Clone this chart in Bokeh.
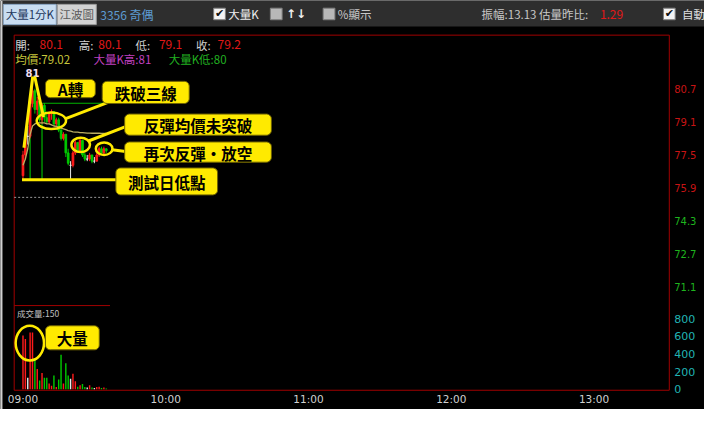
import math
from bokeh.plotting import figure
from bokeh.models import Range1d, ColumnDataSource
from bokeh.embed import file_html
from bokeh.resources import INLINE
from bokeh.core.properties import value

# ---------------- data ----------------
minutes = list(range(36))  # minutes after 09:00
opens  = [76.5, 77.5, 78.4, 78.4, 80.0, 80.6, 79.7, 80.1, 79.2, 79.9,
          79.3, 79.1, 79.5, 79.6, 79.0, 79.2, 78.7, 78.3, 78.5, 77.6,
          77.0, 77.0, 77.6, 78.1, 77.7, 78.2, 77.5, 77.3, 77.3, 77.5,
          77.2, 77.2, 77.5, 77.8, 77.6, 77.8]
highs  = [77.7, 78.6, 78.9, 80.2, 81.0, 80.7, 80.3, 80.1, 80.0, 80.0,
          79.6, 79.6, 79.7, 79.6, 79.3, 79.3, 78.8, 78.6, 78.5, 77.8,
          77.2, 77.7, 78.2, 78.1, 78.3, 78.2, 77.6, 77.5, 77.6, 77.5,
          77.4, 77.6, 77.9, 77.9, 77.9, 77.8]
lows   = [76.3, 77.3, 78.0, 78.3, 79.8, 79.5, 79.4, 79.1, 79.0, 79.1,
          79.0, 79.0, 79.2, 78.9, 78.9, 78.6, 78.2, 78.2, 77.4, 77.0,
          76.3, 76.9, 77.5, 77.6, 77.6, 77.4, 77.2, 77.2, 77.2, 77.1,
          77.1, 77.2, 77.4, 77.5, 77.5, 77.6]
closes = [77.5, 78.4, 78.4, 80.0, 80.6, 79.7, 80.1, 79.2, 79.9, 79.3,
          79.1, 79.5, 79.6, 79.0, 79.2, 78.7, 78.3, 78.5, 77.6, 77.1,
          77.0, 77.6, 78.1, 77.7, 78.2, 77.5, 77.3, 77.3, 77.5, 77.2,
          77.2, 77.5, 77.8, 77.6, 77.8, 77.7]
volumes = [610, 570, 130, 645, 645, 350, 230, 100, 185, 130,
           130, 65, 40, 155, 25, 110, 393, 65, 295, 155,
           120, 175, 90, 30, 45, 60, 25, 20, 45, 20,
           15, 25, 30, 15, 20, 10]
avg_price = [77.0, 77.3, 77.8, 78.5, 78.9, 79.0, 79.05, 79.05, 79.05, 79.05,
             79.0, 79.0, 78.95, 78.9, 78.88, 78.85, 78.8, 78.76, 78.72, 78.68,
             78.65, 78.62, 78.6, 78.6, 78.58, 78.58, 78.57, 78.56, 78.56, 78.55,
             78.55, 78.55, 78.55, 78.54, 78.54, 78.54]
ref_price = 75.45
bigk_high = 81
bigk_low = 80.0
bigk_t = [3, 8]
bigk_line_end = 35
avg_text = "79.02"
vol_unit_text = "150"
cursor_idx = 7

price_ticks = [80.7, 79.1, 77.5, 75.9, 74.3, 72.7, 71.1]
vol_ticks = [800, 600, 400, 200, 0]
time_ticks = [0, 60, 120, 180, 240]
time_labels = ["09:00", "10:00", "11:00", "12:00", "13:00"]

# ---------------- layout (reference pixel geometry) ----------------
REF_W, REF_H = 720, 425
W, H = 704, 409
T0_PX, PX_PER_MIN = 23.0, 146.0 / 60
P_ANCHOR, P_ANCHOR_PX, PX_PER_P = 80.7, 91.7, 21.5
V0_PX, PX_PER_V = 404.0, 73.3 / 800


def Y(py):
    return REF_H - py


p = figure(width=W, height=H, x_range=Range1d(0, REF_W), y_range=Range1d(0, REF_H),
           x_axis_type=None, y_axis_type=None, toolbar_location=None,
           output_backend="svg", min_border=0, title=None,
           background_fill_color="black", border_fill_color="black",
           outline_line_color=None,
           extra_x_ranges={"t": Range1d(-T0_PX / PX_PER_MIN, (REF_W - T0_PX) / PX_PER_MIN)},
           extra_y_ranges={"price": Range1d(P_ANCHOR - (REF_H - P_ANCHOR_PX) / PX_PER_P,
                                            P_ANCHOR + P_ANCHOR_PX / PX_PER_P),
                           "vol": Range1d(-(REF_H - V0_PX) / PX_PER_V, V0_PX / PX_PER_V)})
p.grid.visible = False

CJK = "Noto Sans CJK TC"
SANS = "DejaVu Sans"


def txt(x, y, s, color, size, font=CJK, align="left", bold=False, **kw):
    p.text(x=[x], y=[y], text=[s], text_color=color, text_font=value(font),
           text_font_size=f"{size}px", text_align=align, text_baseline="middle",
           text_font_style="bold" if bold else "normal", **kw)


def rrect(x0, y0, x1, y1, r=5, n=6):
    xs, ys = [], []
    for cx, cy, a0 in [(x1 - r, y0 + r, -90), (x1 - r, y1 - r, 0), (x0 + r, y1 - r, 90), (x0 + r, y0 + r, 180)]:
        for k in range(n + 1):
            a = math.radians(a0 + 90 * k / n)
            xs.append(cx + r * math.cos(a))
            ys.append(Y(cy + r * math.sin(a)))
    return xs, ys


# ---------------- toolbar ----------------
p.quad(left=0, right=REF_W, top=Y(0), bottom=Y(27), fill_color="#2e2e2e", line_color=None)
p.quad(left=0, right=2, top=Y(0), bottom=Y(REF_H), fill_color="#d0d0d0", line_color=None)
p.quad(left=3, right=57, top=Y(4), bottom=Y(25), fill_color="#c9ddf1", line_color="#8aa6c4")
txt(30, Y(14.5), "大量1分K", "#23365c", 11.5, align="center")
p.quad(left=58, right=98, top=Y(4), bottom=Y(25), fill_color="#d2d2d2", line_color="#9a9a9a")
txt(78, Y(14.5), "江波圖", "#5a5a5a", 11.5, align="center")
txt(102, Y(14.5), "3356 奇偶", "#5d9bd2", 12)

for bx, checked in [(218, True), (276, False), (330, False), (678, True)]:
    p.quad(left=bx, right=bx + 12, top=Y(8), bottom=Y(20),
           fill_color="#f4f4f4" if checked else "#b8b8b8", line_color="#808080")
    if checked:
        txt(bx + 6, Y(14), "✔", "#111111", 11, font=SANS, align="center")
txt(233, Y(14.5), "大量K", "#f0f0f0", 11.5)
txt(292, Y(14), "↑↓", "#f0f0f0", 12, font=SANS, bold=True)
txt(345, Y(14.5), "%顯示", "#c8c8c8", 11.5)
txt(492, Y(14.5), "振幅:13.13 估量昨比:", "#c8c8c8", 11.5)
txt(613, Y(14.5), "1.29", "#e01818", 12)
txt(697, Y(14.5), "自動", "#e0e0e0", 11.5)

# ---------------- frame ----------------
p.quad(left=14, right=684, top=Y(36), bottom=Y(405), fill_color=None, line_color="#a00000", line_width=1)
p.segment(x0=[14], y0=[Y(317)], x1=[112], y1=[Y(317)], line_color="#a00000", line_width=1)

# ---------------- header texts ----------------
red_t, gray_t = "#e01818", "#d0d0d0"
for lab, lx, val, vx in [("開:", 15, opens[cursor_idx], 40), ("高:", 80, highs[cursor_idx], 100),
                         ("低:", 138, lows[cursor_idx], 162), ("收:", 200, closes[cursor_idx], 222)]:
    txt(lx, Y(46), lab, gray_t, 11.5)
    txt(vx, Y(46), f"{val:.1f}", red_t, 12)
txt(15, Y(61), f"均價:{avg_text}", "#c8c83c", 11.5)
txt(95, Y(61), f"大量K高:{bigk_high}", "#c040c0", 11.5)
txt(172, Y(61), f"大量K低:{bigk_low:.0f}", "#20b020", 11.5)
txt(17, Y(325), f"成交量:{vol_unit_text}", "#c0c0c0", 8.5)

# ---------------- axis labels ----------------
p.text(x=[689] * len(price_ticks), y=price_ticks, text=[f"{v:.1f}" for v in price_ticks],
       text_color=["#c81414" if v > ref_price else "#1eb41e" for v in price_ticks],
       text_font=value(SANS), text_font_size="10px", text_baseline="middle",
       y_range_name="price")
p.text(x=[689] * len(vol_ticks), y=vol_ticks, text=[str(v) for v in vol_ticks],
       text_color="#20b4b4", text_font=value(SANS), text_font_size="11px",
       text_baseline="middle", y_range_name="vol")
p.text(x=time_ticks, y=[Y(414)] * len(time_ticks), text=time_labels, text_color="#d0d0d0",
       text_font=value(SANS), text_font_size="10.5px", text_baseline="middle",
       text_align="center", x_range_name="t")

# ---------------- price chart ----------------
colors = ["#ff1a1a" if c > o else ("#00c800" if c < o else "#e8e8e8") for o, c in zip(opens, closes)]
src = ColumnDataSource(dict(t=minutes, o=opens, h=highs, l=lows, c=closes, vol=volumes,
                            top=[max(o, c) for o, c in zip(opens, closes)],
                            bot=[min(o, c) for o, c in zip(opens, closes)], color=colors))

p.segment(x0=[-3.7], y0=[ref_price], x1=[36.5], y1=[ref_price], line_color="#9a9a9a",
          line_dash="2 2", line_width=1, x_range_name="t", y_range_name="price")
p.segment(x0=[bigk_t[0]], y0=[bigk_low], x1=[bigk_line_end], y1=[bigk_low], line_color="#00b400",
          line_width=1.2, x_range_name="t", y_range_name="price")
p.segment(x0=bigk_t, y0=[bigk_low] * 2, x1=bigk_t, y1=[min(lows)] * 2, line_color="#00b400",
          line_width=1.2, x_range_name="t", y_range_name="price")
p.segment("t", "l", "t", "h", source=src, line_color="color", line_width=1,
          x_range_name="t", y_range_name="price")
p.vbar(x="t", width=0.7, top="top", bottom="bot", source=src, fill_color="color",
       line_color="color", line_width=1, x_range_name="t", y_range_name="price")
p.line(minutes, avg_price, line_color="#bcae62", line_width=1.3, x_range_name="t", y_range_name="price")

# volume bars
p.vbar(x="t", width=0.6, top="vol", bottom=0, source=src, fill_color="color", line_color=None,
       x_range_name="t", y_range_name="vol")

# peak label
p.text(x=[minutes[highs.index(max(highs))]], y=[max(highs)], text=[f"{max(highs):.0f}"],
       text_color="#f0dcf0", text_font=value(SANS), text_font_size="10px", text_font_style="bold",
       text_align="center", text_baseline="bottom", x_offset=0, y_offset=-6,
       x_range_name="t", y_range_name="price")

# ---------------- annotations ----------------
YEL = "#ffea00"
# A shape
p.line([24, 33], [Y(153), Y(79)], line_color=YEL, line_width=3)
p.line([35, 44], [Y(79), Y(121)], line_color=YEL, line_width=3)
# test-day low line
p.segment(x0=[22], y0=[min(lows)], x1=[120], y1=[min(lows)], line_color=YEL, line_width=3,
          y_range_name="price")
# pointer lines
p.segment(x0=[66, 90, 114], y0=[Y(123), Y(146), Y(155)], x1=[112, 128, 128], y1=[Y(105), Y(131), Y(157)],
          line_color=YEL, line_width=3)
# circles
p.ellipse(x=[52, 82, 106, 30], y=[Y(125), Y(150), Y(154), Y(356)], width=[30, 19, 17, 29],
          height=[17, 15, 13, 36], fill_color=None, line_color=YEL, line_width=2.5)

ann_boxes = [("A轉", 46, 82, 97, 101), ("跌破三線", 104, 84, 193, 107),
             ("反彈均價未突破", 127, 118, 277, 140), ("再次反彈・放空", 127, 147, 277, 168),
             ("測試日低點", 118, 174, 222, 202), ("大量", 46, 338, 101, 363)]
for label, x0, y0, x1, y1 in ann_boxes:
    xs, ys = rrect(x0, y0, x1, y1)
    p.patch(xs, ys, fill_color=YEL, line_color="#6e6200", line_width=1)
    txt((x0 + x1) / 2, Y((y0 + y1) / 2 + 0.5), label, "#000000", 15.5, align="center", bold=True)

open("out.html", "w").write(file_html(p, INLINE))
